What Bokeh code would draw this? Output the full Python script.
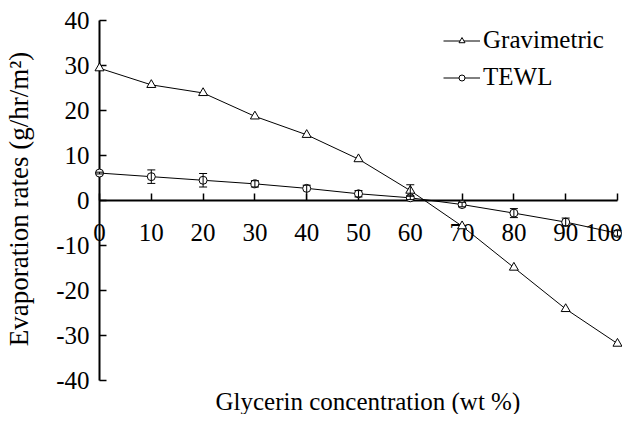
from bokeh.plotting import figure
from bokeh.models import (Range1d, LinearAxis, FixedTicker, Whisker, TeeHead,
                          ColumnDataSource, Legend, LegendItem, Title)
from bokeh.embed import file_html
from bokeh.resources import INLINE

# ---- data ----
conc = [0, 10, 20, 30, 40, 50, 60, 70, 80, 90, 100]
gravimetric = [29.4, 25.7, 23.9, 18.7, 14.6, 9.2, 2.2, -5.7, -14.9, -24.1, -31.8]
tewl = [6.1, 5.3, 4.5, 3.7, 2.7, 1.5, 0.6, -0.9, -2.8, -4.8, -7.3]
tewl_lower = [5.9, 3.8, 3.0, 3.0, 0.0, 0.8, 0.2, -1.4, -3.8, -5.7, -7.9]
tewl_upper = [6.3, 6.8, 6.0, 4.4, 3.4, 2.2, 1.0, -0.4, -1.8, -3.9, -6.7]
grav_err_x = [60]
grav_err_lower = [1.0]
grav_err_upper = [3.5]
x_ticks = [0, 10, 20, 30, 40, 50, 60, 70, 80, 90, 100]
y_ticks = [-40, -30, -20, -10, 0, 10, 20, 30, 40]
y_tick_labels = ["-40", "-30", "-20", "-10", "0", "10", "20", "30", "40"]
x_title = "Glycerin concentration (wt %)"
y_title = "Evaporation rates (g/hr/m²)"

FONT = "Liberation Serif"

p = figure(width=622, height=414,
           x_range=Range1d(-10.04, 100.97), y_range=Range1d(-42.22, 42.89),
           output_backend="svg", toolbar_location=None,
           min_border_left=47, min_border_right=0,
           min_border_top=7, min_border_bottom=24)
p.grid.visible = False
p.outline_line_color = None
p.background_fill_color = "white"
p.border_fill_color = "white"

# main x axis crossing at y = 0
xa = p.xaxis[0]
xa.fixed_location = 0
xa.ticker = FixedTicker(ticks=x_ticks)
xa.bounds = (0, 100)
xa.major_tick_in = 7
xa.major_tick_out = 0
xa.minor_tick_line_color = None
xa.axis_line_width = 2
xa.major_tick_line_width = 1.5
xa.major_label_standoff = 23
xa.major_label_text_font = FONT
xa.major_label_text_font_size = "25px"
xa.major_label_text_color = "black"
xa.axis_line_color = "black"
xa.major_tick_line_color = "black"

# main y axis at x = 0
ya = p.yaxis[0]
ya.fixed_location = 0
ya.ticker = FixedTicker(ticks=y_ticks)
ya.major_label_overrides = dict(zip(y_ticks, y_tick_labels))
ya.bounds = (-40, 40)
ya.major_tick_in = 7
ya.major_tick_out = 0
ya.minor_tick_line_color = None
ya.axis_line_width = 2
ya.major_tick_line_width = 1.5
ya.major_label_standoff = 10
ya.major_label_text_font = FONT
ya.major_label_text_font_size = "25px"
ya.major_label_text_color = "black"
ya.axis_line_color = "black"
ya.major_tick_line_color = "black"

# x title (placed under the axis, slightly right of the frame centre as in the original)
p.add_layout(Title(text=x_title, align="left", offset=168, standoff=-6,
                   vertical_align="top",
                   text_font=FONT, text_font_size="25px",
                   text_font_style="normal", text_color="black"), "below")

# y title on an axis carrying no ticks
yl = LinearAxis(ticker=FixedTicker(ticks=[]),
                axis_label=y_title,
                axis_line_color=None, major_tick_line_color=None,
                minor_tick_line_color=None, axis_label_standoff=14,
                axis_label_text_font=FONT, axis_label_text_font_size="27px",
                axis_label_text_font_style="normal", axis_label_text_color="black")
p.add_layout(yl, "left")

# series (drawn above the axes, as in the original where marks cover tick labels)
gl = p.line(conc, gravimetric, line_color="black", line_width=1, level="overlay")
gs = p.scatter(conc, gravimetric, marker="triangle", size=9,
               fill_color="white", line_color="black", line_width=1, level="overlay")
tl = p.line(conc, tewl, line_color="black", line_width=1, level="overlay")
ts = p.scatter(conc, tewl, marker="circle", size=8,
               fill_color="white", line_color="black", line_width=1, level="overlay")

tsrc = ColumnDataSource(dict(x=conc, lower=tewl_lower, upper=tewl_upper))
p.add_layout(Whisker(source=tsrc, base="x", lower="lower", upper="upper",
                     line_color="black", line_width=1, level="overlay",
                     upper_head=TeeHead(size=8, line_color="black"),
                     lower_head=TeeHead(size=8, line_color="black")))
gsrc = ColumnDataSource(dict(x=grav_err_x, lower=grav_err_lower, upper=grav_err_upper))
p.add_layout(Whisker(source=gsrc, base="x", lower="lower", upper="upper",
                     line_color="black", line_width=1, level="overlay",
                     upper_head=TeeHead(size=8, line_color="black"),
                     lower_head=TeeHead(size=8, line_color="black")))

legend = Legend(items=[LegendItem(label="Gravimetric", renderers=[gl, gs]),
                       LegendItem(label="TEWL", renderers=[tl, ts])],
                location=(396, 298), padding=0, margin=0, spacing=7,
                glyph_width=37, glyph_height=15, label_height=30,
                label_standoff=3, border_line_color=None,
                background_fill_alpha=0,
                label_text_font=FONT, label_text_font_size="25px",
                label_text_color="black")
p.add_layout(legend)

open("out.html", "w").write(file_html(p, INLINE))
